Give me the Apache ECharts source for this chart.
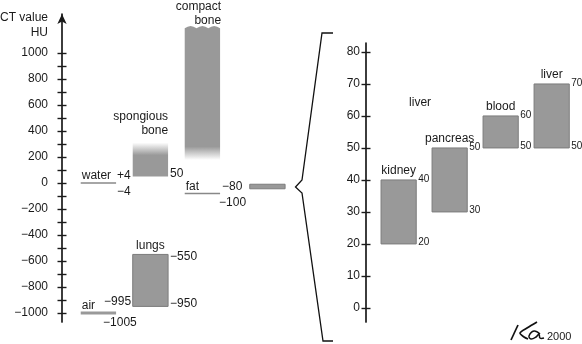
<!DOCTYPE html>
<html><head><meta charset="utf-8">
<script src="https://cdn.jsdelivr.net/npm/echarts@6/dist/echarts.min.js"></script>
<style>html,body{margin:0;padding:0;background:#fff}#c{width:582px;height:344px}</style>
</head><body><div id="c"></div>
<script>
// ---------- data: left chart (CT values, HU) ----------
const leftTicks = [-1000,-900,-800,-700,-600,-500,-400,-300,-200,-100,0,100,200,300,400,500,600,700,800,900,1000];
const leftTickLabels = [-1000,-800,-600,-400,-200,0,200,400,600,800,1000];
const lineNames = ['water', 'fat', 'air'];
const lineSlots = [1, 3, 1];
const lineValues = [0, -82, -1000];
const lineUpper = ['+4', '\u221280', '\u2212995'];
const lineLower = ['\u22124', '\u2212100', '\u22121005'];
const barNames = ['spongious\nbone', 'compact\nbone', 'lungs', ''];
const barSlots = [2, 3, 2, 4.25];
const barLow = [50, 177, -950, -45];
const barHigh = [310, 1190, -550, -10];
const barHighLabel = ['', '', '\u2212550', ''];
const barLowLabel = ['50', '', '\u2212950', ''];
// ---------- data: right chart (zoomed soft tissue range) ----------
const rightTicks = [0,10,20,30,40,50,60,70,80];
const organNames = ['kidney', 'pancreas', 'blood', 'liver'];
const organSlots = [1, 2, 3, 4];
const organLow = [20, 30, 50, 50];
const organHigh = [40, 50, 60, 70];
const strayLabel = ['liver'];
const straySlot = [1.42];
const strayValue = [64];

const FONT = "'Liberation Sans', Arial, Helvetica, sans-serif";
const INK = '#1a1a1a';
const GRAY = '#999999';
const BARW = 0.68;

function txt(x, y, text, size, align, vAlign) {
  return {type: 'text', x: x, y: y, silent: true,
    style: {text: text, fill: INK, font: size + 'px ' + FONT, align: align || 'left',
      verticalAlign: vAlign || 'middle', lineHeight: 14}};
}
const minus = v => String(v).replace('-', '\u2212');

function renderLine(params, api) {
  const i = params.dataIndex;
  const p = api.coord([api.value(0), api.value(1)]);
  const w = api.size([BARW, 0])[0];
  const x0 = p[0] - w / 2, x1 = p[0] + w / 2, y = p[1];
  const isAir = lineNames[i] === 'air';
  const ch = [{type: 'line', shape: {x1: x0, y1: y, x2: x1, y2: y},
    style: {stroke: isAir ? GRAY : '#888', lineWidth: isAir ? 3 : 1.5}}];
  ch.push(txt(x0 + 1, y - 7, lineNames[i], 12));
  if (isAir) {
    ch.push(txt(x1 - 12, y - 11, lineUpper[i], 12));
    ch.push(txt(x1 - 13, y + 10, lineLower[i], 12));
  } else {
    ch.push(txt(x1 + (i === 1 ? 2 : 1), y - 7, lineUpper[i], 12));
    ch.push(txt(x1 + (i === 1 ? -1 : 1), y + 9, lineLower[i], 12));
  }
  return {type: 'group', children: ch};
}

function renderBar(params, api) {
  const i = params.dataIndex;
  const pLo = api.coord([api.value(0), api.value(1)]);
  const pHi = api.coord([api.value(0), api.value(2)]);
  const w = api.size([BARW, 0])[0];
  const x0 = pLo[0] - w / 2, x1 = pLo[0] + w / 2, t = pHi[1], b = pLo[1];
  const ch = [];
  const name = barNames[i];
  if (name.indexOf('spongious') === 0) {
    ch.push({type: 'rect', shape: {x: x0, y: t, width: w, height: b - t},
      style: {fill: new echarts.graphic.LinearGradient(0, 0, 0, 1, [
        {offset: 0, color: 'rgba(153,153,153,0)'}, {offset: 0.37, color: GRAY}, {offset: 1, color: GRAY}])}});
    ch.push(txt(x1, t - 5, name, 12, 'right', 'bottom'));
  } else if (name.indexOf('compact') === 0) {
    const pts = [[x0, b]];
    const N = 36;
    for (let k = 0; k <= N; k++) {
      pts.push([x0 + w * k / N, t - 2.2 * Math.abs(Math.sin(3 * Math.PI * k / N))]);
    }
    pts.push([x1, b]);
    ch.push({type: 'polygon', shape: {points: pts},
      style: {fill: new echarts.graphic.LinearGradient(0, 0, 0, 1, [
        {offset: 0, color: GRAY}, {offset: 0.9, color: GRAY}, {offset: 1, color: 'rgba(153,153,153,0)'}])}});
    ch.push(txt(x1 + 1, t - 1, name, 12, 'right', 'bottom'));
  } else {
    ch.push({type: 'rect', shape: {x: x0, y: t, width: w, height: b - t},
      style: {fill: GRAY, stroke: '#7c7c7c', lineWidth: 1}});
    if (name) ch.push(txt(pLo[0], t - 2, name, 12, 'center', 'bottom'));
  }
  if (barHighLabel[i]) ch.push(txt(x1 + 2, t + 2.5, barHighLabel[i], 12));
  if (barLowLabel[i]) ch.push(txt(x1 + 2, b - 2.5, barLowLabel[i], 12));
  return {type: 'group', children: ch};
}

function renderOrgan(params, api) {
  const i = params.dataIndex;
  const pLo = api.coord([api.value(0), api.value(1)]);
  const pHi = api.coord([api.value(0), api.value(2)]);
  const w = api.size([0.69, 0])[0];
  const x0 = pLo[0] - w / 2, x1 = pLo[0] + w / 2, t = pHi[1], b = pLo[1];
  return {type: 'group', children: [
    {type: 'rect', shape: {x: x0, y: t, width: w, height: b - t},
      style: {fill: GRAY, stroke: '#7c7c7c', lineWidth: 1}},
    txt(pLo[0], t - 2, organNames[i], 12, 'center', 'bottom'),
    txt(x1 + 2, t - 1, String(organHigh[i]), 10),
    txt(x1 + 2, b - 1.5, String(organLow[i]), 10)
  ]};
}

function renderStray(params, api) {
  const p = api.coord([api.value(0), api.value(1)]);
  return txt(p[0], p[1], strayLabel[params.dataIndex], 12, 'center');
}

const axisCommon = (min, max, ticks, labels, margin, inside, showLine, arrow) => ({
  type: 'value', position: 'left', min: min, max: max, splitLine: {show: false},
  axisLine: {show: showLine, lineStyle: {color: INK, width: 1.7},
    symbol: arrow ? ['none', 'arrow'] : 'none', symbolSize: [7, 10]},
  axisTick: {show: true, inside: inside, length: 4.5, customValues: ticks, lineStyle: {color: INK, width: 1.4}},
  axisLabel: labels ? {show: true, customValues: labels, margin: margin, formatter: minus,
    color: INK, fontSize: 12, fontFamily: FONT} : {show: false}
});

const chart = echarts.init(document.getElementById('c'), null, {renderer: 'canvas'});
chart.setOption({
  backgroundColor: '#fff',
  animation: false,
  grid: [
    {left: 62, top: 14, width: 234, height: 308},
    {left: 366, top: 43, width: 213, height: 279}
  ],
  xAxis: [
    {type: 'value', gridIndex: 0, min: 0.3, max: 4.8, show: false},
    {type: 'value', gridIndex: 1, min: 0.36, max: 4.536, show: false}
  ],
  yAxis: [
    Object.assign(axisCommon(-1070, 1300, leftTicks, leftTickLabels, 14, false, true, true), {gridIndex: 0}),
    Object.assign(axisCommon(-1070, 1300, leftTicks, null, 0, true, false, false), {gridIndex: 0}),
    Object.assign(axisCommon(-4.4, 82.8, rightTicks, rightTicks, 6, false, true, false), {gridIndex: 1}),
    Object.assign(axisCommon(-4.4, 82.8, rightTicks, null, 0, true, false, false), {gridIndex: 1})
  ],
  series: [
    {type: 'custom', xAxisIndex: 0, yAxisIndex: 0, clip: false, renderItem: renderLine,
      encode: {x: 0, y: 1}, data: lineSlots.map((s, i) => [s, lineValues[i]])},
    {type: 'custom', xAxisIndex: 0, yAxisIndex: 0, clip: false, renderItem: renderBar,
      encode: {x: 0, y: [1, 2]}, data: barSlots.map((s, i) => [s, barLow[i], barHigh[i]])},
    {type: 'custom', xAxisIndex: 1, yAxisIndex: 2, clip: false, renderItem: renderOrgan,
      encode: {x: 0, y: [1, 2]}, data: organSlots.map((s, i) => [s, organLow[i], organHigh[i]])},
    {type: 'custom', xAxisIndex: 1, yAxisIndex: 2, clip: false, renderItem: renderStray,
      encode: {x: 0, y: 1}, data: straySlot.map((s, i) => [s, strayValue[i]])}
  ],
  graphic: [
    {type: 'text', x: 48, y: 18, style: {text: 'CT value', fill: INK, font: '12px ' + FONT, align: 'right', verticalAlign: 'middle'}},
    {type: 'text', x: 48, y: 33, style: {text: 'HU', fill: INK, font: '12px ' + FONT, align: 'right', verticalAlign: 'middle'}},
    {type: 'polyline', shape: {points: [[333, 33], [322, 33], [302, 180], [295.5, 187], [302, 193], [323, 341], [333, 341]]},
      style: {stroke: '#111', lineWidth: 1.3, fill: null}},
    {type: 'polyline', shape: {points: [[511, 340], [518, 325]]}, style: {stroke: '#111', lineWidth: 1.7, fill: null}},
    {type: 'polyline', shape: {points: [[537, 322], [527, 328], [520, 333], [524, 337], [528, 339]], smooth: 0.3},
      style: {stroke: '#111', lineWidth: 1.7, fill: null}},
    {type: 'polyline', shape: {points: [[540, 334], [534, 331], [529, 336], [531, 339], [536, 337], [539, 334], [540, 338], [544, 338]], smooth: 0.4},
      style: {stroke: '#111', lineWidth: 1.5, fill: null}},
    {type: 'text', x: 547, y: 337, style: {text: '2000', fill: INK, font: '11px ' + FONT, align: 'left', verticalAlign: 'middle'}}
  ]
});
</script>
</body></html>
